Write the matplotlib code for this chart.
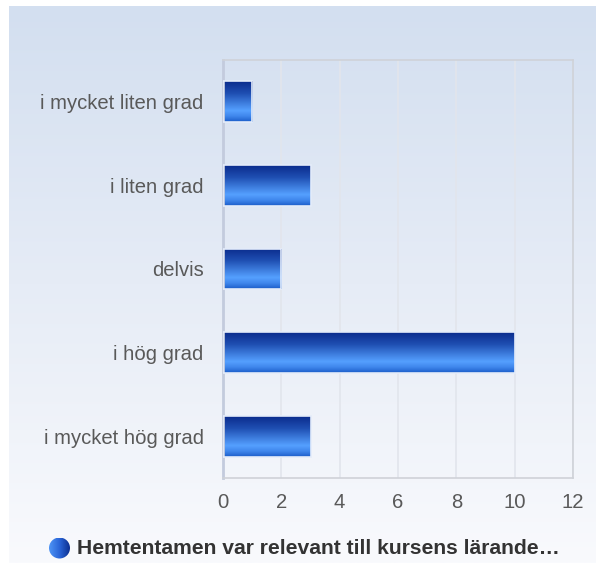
import numpy as np
import matplotlib
matplotlib.use("Agg")
import matplotlib.pyplot as plt
from matplotlib.colors import LinearSegmentedColormap
from matplotlib.patches import Circle

categories = ["i mycket liten grad", "i liten grad", "delvis", "i hög grad", "i mycket hög grad"]
values = [1, 3, 2, 10, 3]
xticks = [0, 2, 4, 6, 8, 10, 12]
legend_label = "Hemtentamen var relevant till kursens lärande…"

W, H = 596, 563
fig = plt.figure(figsize=(W / 100, H / 100), dpi=100)
fig.patch.set_facecolor("white")

# background panel gradient
bg = fig.add_axes([9 / W, 0, 1 - 9 / W, 1 - 6 / H], zorder=0)
bg_cmap = LinearSegmentedColormap.from_list("bg", ["#d3dff0", "#e6ecf6", "#f9fafd"])
bg.imshow(np.linspace(0, 1, 256).reshape(-1, 1), cmap=bg_cmap, aspect="auto",
          extent=[0, 1, 0, 1], origin="upper")
bg.set_axis_off()

# main axes
left, right, top, bottom = 223, 573, 60, 478
ax = fig.add_axes([left / W, 1 - bottom / H, (right - left) / W, (bottom - top) / H], zorder=1)
ax.patch.set_alpha(0)

bar_cmap = LinearSegmentedColormap.from_list(
    "bar", [(0.0, "#0a2b8c"), (0.3, "#1f4fb2"), (0.72, "#55a0ff"), (0.86, "#3f86ec"), (1.0, "#1a5cc8")])
grad = np.linspace(0, 1, 256).reshape(-1, 1)

ypos = np.arange(len(categories))[::-1]
bh = 0.49
bars = ax.barh(ypos, values, height=bh, color="none", edgecolor="#e4ecfa", linewidth=1.2, zorder=3)
for b, v, y in zip(bars, values, ypos):
    im = ax.imshow(grad, cmap=bar_cmap, aspect="auto",
                   extent=[0, v, y - bh / 2, y + bh / 2], origin="upper", zorder=2)
    im.set_clip_path(b)

ax.set_xlim(0, 12)
ax.set_ylim(-0.5, len(categories) - 0.5)
ax.set_xticks(xticks)
ax.set_xticklabels([str(t) for t in xticks])
ax.set_yticks(ypos)
ax.set_yticklabels(categories)
ax.tick_params(axis="both", length=0, labelsize=14.6, labelcolor="#595959")
ax.tick_params(axis="x", pad=11)
ax.tick_params(axis="y", pad=14)
for lab in ax.get_xticklabels() + ax.get_yticklabels():
    lab.set_fontfamily("Liberation Sans")
ax.grid(axis="x", color="#e2e5ec", linewidth=1.2, zorder=0)
ax.set_axisbelow(True)
for s in ["top", "right", "bottom"]:
    ax.spines[s].set_color("#cfd2d8")
    ax.spines[s].set_linewidth(1.2)
ax.spines["left"].set_color("#c3cbdd")
ax.spines["left"].set_linewidth(2)

# legend marker
cx, cy, r = 59.5, 548, 10.5
lax = fig.add_axes([(cx - r) / W, 1 - (cy + r) / H, 2 * r / W, 2 * r / H], zorder=2)
lax.set_xlim(0, 1)
lax.set_ylim(0, 1)
lax.set_axis_off()
leg_cmap = LinearSegmentedColormap.from_list("leg", ["#4f95f5", "#2a66d8", "#0c2f90"])
lim = lax.imshow(np.linspace(0, 1, 256).reshape(1, -1), cmap=leg_cmap, aspect="auto",
                 extent=[0, 1, 0, 1])
circ = Circle((0.5, 0.5), 0.5, transform=lax.transAxes, facecolor="none", edgecolor="none")
lax.add_patch(circ)
lim.set_clip_path(circ)

fig.text(77 / W, 1 - cy / H, legend_label, fontsize=15.2, fontweight="bold",
         color="#333333", family="Liberation Sans", va="center", ha="left")

fig.savefig("out.png", dpi=100)
